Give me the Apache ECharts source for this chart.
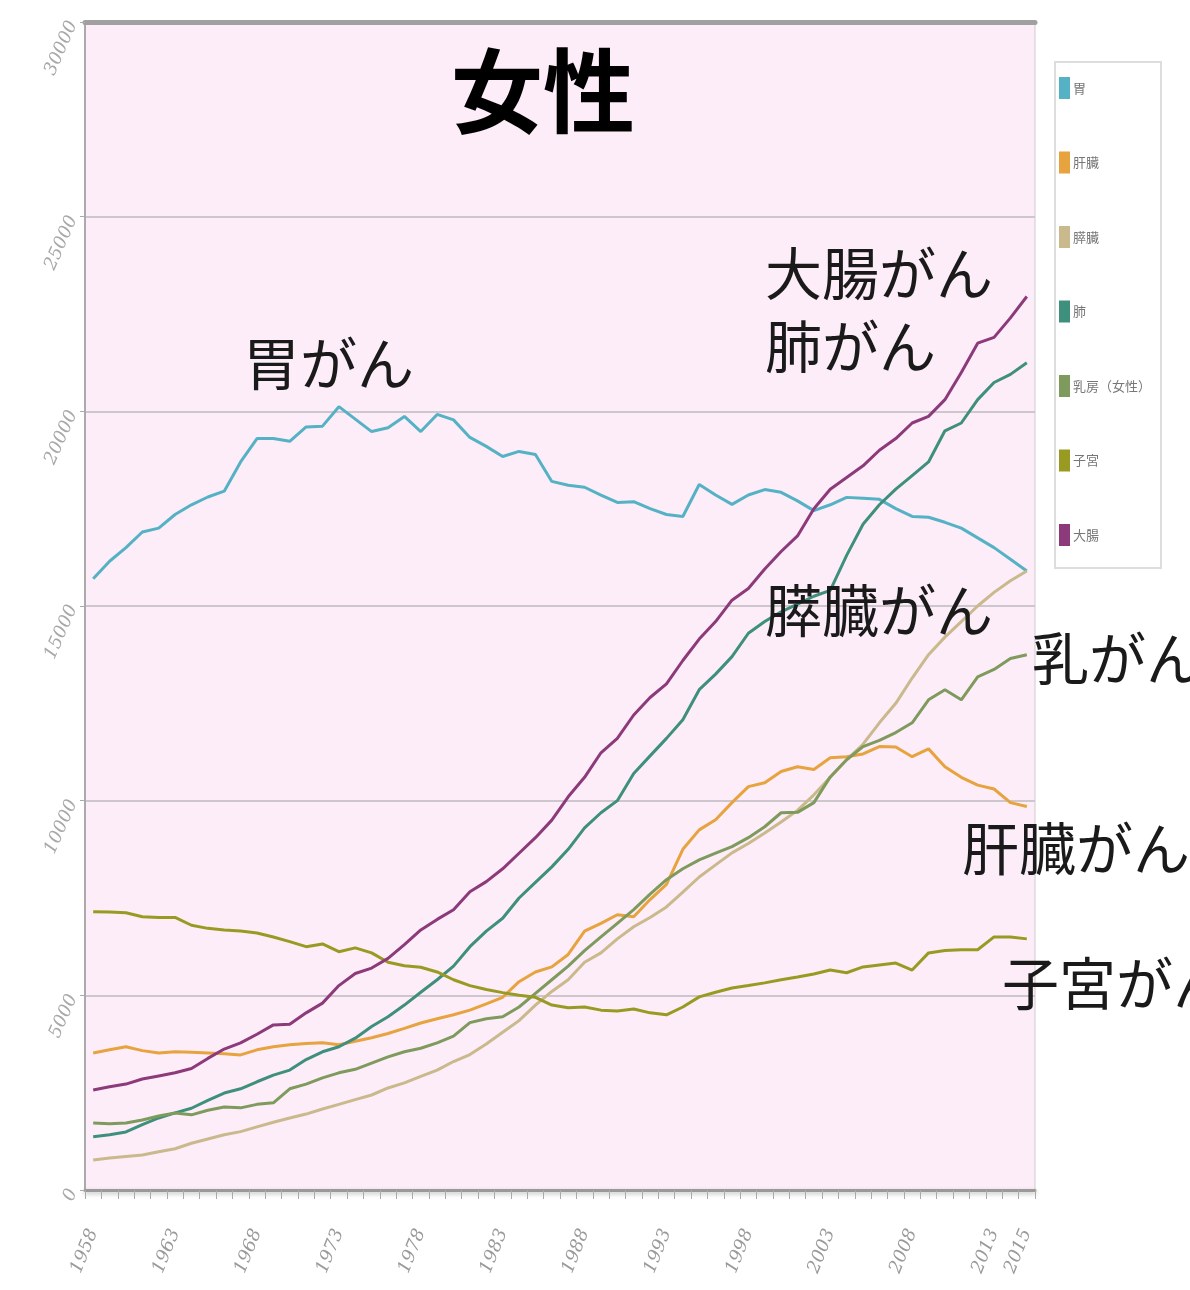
<!DOCTYPE html>
<html>
<head>
<meta charset="utf-8">
<title>女性</title>
<script src="https://cdn.jsdelivr.net/npm/echarts@6/dist/echarts.min.js"></script>
<style>
  html, body { margin: 0; padding: 0; background: #ffffff; }
  #chart { width: 1190px; height: 1290px; }
</style>
</head>
<body>
<div id="chart"></div>
<script>
// years on the x axis
const years = ['1958','1959','1960','1961','1962','1963','1964','1965','1966','1967',
  '1968','1969','1970','1971','1972','1973','1974','1975','1976','1977',
  '1978','1979','1980','1981','1982','1983','1984','1985','1986','1987',
  '1988','1989','1990','1991','1992','1993','1994','1995','1996','1997',
  '1998','1999','2000','2001','2002','2003','2004','2005','2006','2007',
  '2008','2009','2010','2011','2012','2013','2014','2015'];
const xTickLabels = ['1958','1963','1968','1973','1978','1983','1988','1993','1998','2003','2008','2013','2015'];

// series values (one per year)
const stomach = [15700,16150,16500,16900,17000,17350,17600,17800,17950,18700,
  19300,19300,19230,19600,19620,20120,19800,19480,19580,19870,
  19480,19920,19780,19330,19100,18840,18970,18890,18200,18100,
  18050,17850,17660,17680,17500,17350,17300,18120,17850,17610,
  17850,17990,17920,17700,17450,17600,17790,17770,17740,17500,
  17300,17280,17150,17000,16750,16500,16200,15900];
const liver = [3520,3600,3680,3580,3520,3550,3540,3520,3500,3470,
  3600,3680,3730,3760,3780,3730,3820,3910,4020,4150,
  4290,4400,4500,4620,4780,4950,5350,5600,5730,6050,
  6650,6850,7070,7020,7460,7850,8750,9250,9510,9950,
  10360,10460,10750,10870,10800,11100,11130,11200,11390,11380,
  11130,11330,10870,10600,10400,10300,9950,9850];
const pancreas = [770,820,860,900,980,1060,1200,1310,1420,1500,
  1620,1740,1850,1950,2080,2200,2320,2440,2620,2750,
  2920,3080,3300,3480,3750,4050,4350,4750,5100,5400,
  5850,6090,6450,6760,7000,7270,7650,8040,8350,8660,
  8900,9170,9450,9750,10150,10600,11050,11450,12000,12500,
  13150,13750,14200,14600,15000,15350,15650,15900];
const lung = [1370,1420,1490,1680,1850,1980,2100,2300,2490,2600,
  2780,2950,3080,3350,3550,3680,3900,4200,4450,4750,
  5080,5400,5750,6250,6650,6980,7500,7900,8300,8750,
  9300,9690,10000,10700,11150,11600,12080,12850,13250,13700,
  14300,14600,14850,15050,15250,15400,16300,17100,17600,18000,
  18350,18700,19500,19700,20300,20740,20950,21250];
const breast = [1720,1700,1720,1800,1900,1980,1930,2050,2130,2110,
  2200,2240,2600,2720,2880,3010,3100,3260,3420,3550,
  3640,3780,3950,4300,4400,4450,4700,5050,5400,5750,
  6150,6500,6850,7200,7600,7970,8250,8480,8650,8820,
  9050,9330,9690,9700,9950,10610,11050,11390,11550,11750,
  12000,12590,12850,12590,13180,13370,13650,13750];
const uterus = [7150,7140,7120,7020,7000,7000,6800,6720,6680,6650,
  6600,6500,6380,6250,6320,6120,6220,6090,5850,5760,
  5720,5600,5400,5250,5150,5070,5000,4950,4750,4680,
  4700,4620,4600,4650,4550,4500,4700,4960,5080,5190,
  5250,5320,5400,5470,5550,5650,5580,5730,5780,5830,
  5650,6090,6150,6170,6170,6500,6500,6450];
const colon = [2570,2650,2720,2850,2930,3010,3120,3380,3620,3780,
  4000,4240,4260,4550,4800,5250,5560,5700,5950,6300,
  6680,6950,7200,7660,7920,8250,8650,9050,9500,10100,
  10600,11230,11600,12200,12650,13000,13600,14150,14600,15150,
  15450,15950,16400,16800,17500,18000,18300,18600,19000,19300,
  19700,19870,20300,21000,21750,21900,22400,22950];

const seriesNames = ['胃', '肝臓', '膵臓', '肺', '乳房（女性）', '子宮', '大腸'];
const seriesData = [stomach, liver, pancreas, lung, breast, uterus, colon];
const seriesColors = ['#55b2c4', '#e6a33e', '#c9b98c', '#3e8f7c', '#7e9a5c', '#999a22', '#8c3a7a'];

const jpFont = '"Noto Sans CJK JP", "Noto Sans", sans-serif';

function note(text, left, top, size) {
  return {
    type: 'text',
    left: left,
    top: top,
    z: 100,
    style: {
      text: text,
      fill: '#1a1a1a',
      font: 'normal ' + size + 'px ' + jpFont
    }
  };
}

const chart = echarts.init(document.getElementById('chart'));

const option = {
  backgroundColor: '#ffffff',
  animation: false,
  title: {
    text: '女性',
    left: 538,
    top: 40,
    textAlign: 'center',
    textStyle: {
      fontFamily: jpFont,
      fontSize: 92,
      fontWeight: 'bold',
      color: '#000000'
    }
  },
  legend: {
    orient: 'vertical',
    left: 1055,
    top: 62,
    icon: 'rect',
    itemWidth: 11,
    itemHeight: 22,
    itemGap: 52.5,
    padding: [15, 10, 22, 4],
    backgroundColor: '#ffffff',
    borderColor: '#dddddd',
    borderWidth: 2,
    textStyle: {
      fontFamily: jpFont,
      fontSize: 13,
      color: '#777777',
      padding: [0, 0, 0, -2]
    },
    data: seriesNames
  },
  grid: {
    left: 85,
    right: 155,
    top: 22,
    bottom: 100,
    show: true,
    backgroundColor: '#fcedf9',
    borderColor: '#cccccc',
    borderWidth: 1
  },
  xAxis: [
    {
      type: 'category',
      data: years,
      boundaryGap: true,
      axisLine: {
        lineStyle: { color: '#999999', width: 3, shadowColor: 'rgba(0,0,0,0.25)', shadowBlur: 4, shadowOffsetY: 2 }
      },
      axisTick: {
        show: true,
        interval: 0,
        length: 9,
        lineStyle: { color: '#aaaaaa', width: 1 }
      },
      axisLabel: {
        interval: function (index, value) { return xTickLabels.indexOf(value) !== -1; },
        rotate: 68,
        margin: 40,
        color: '#9a9a9a',
        fontSize: 18,
        fontStyle: 'italic',
        fontFamily: '"DejaVu Serif", serif'
      },
      splitLine: { show: false }
    },
    {
      type: 'category',
      data: years,
      position: 'top',
      axisLine: { lineStyle: { color: '#a0a0a0', width: 5 } },
      axisTick: { show: false },
      axisLabel: { show: false },
      splitLine: { show: false }
    }
  ],
  yAxis: {
    type: 'value',
    min: 0,
    max: 30000,
    interval: 5000,
    axisLine: { show: true, lineStyle: { color: '#aaaaaa', width: 2 } },
    axisTick: { show: true, length: 5, lineStyle: { color: '#aaaaaa' } },
    axisLabel: {
      rotate: 66,
      margin: 12,
      color: '#a8a8a8',
      fontSize: 18,
      fontStyle: 'italic',
      fontFamily: '"DejaVu Serif", serif',
      formatter: function (v) { return String(v); }
    },
    splitLine: { lineStyle: { color: '#cdc6cd', width: 2 } }
  },
  series: seriesNames.map(function (name, i) {
    return {
      name: name,
      type: 'line',
      data: seriesData[i],
      showSymbol: false,
      symbol: 'none',
      itemStyle: { color: seriesColors[i] },
      lineStyle: { color: seriesColors[i], width: 3 }
    };
  }),
  graphic: [
    note('胃がん', 243, 335, 57),
    note('大腸がん', 765, 245, 57),
    note('肺がん', 765, 318, 57),
    note('膵臓がん', 765, 582, 57),
    note('乳がん', 1032, 630, 57),
    note('肝臓がん', 962, 820, 57),
    note('子宮がん', 1002, 955, 57)
  ]
};

chart.setOption(option);
</script>
</body>
</html>
